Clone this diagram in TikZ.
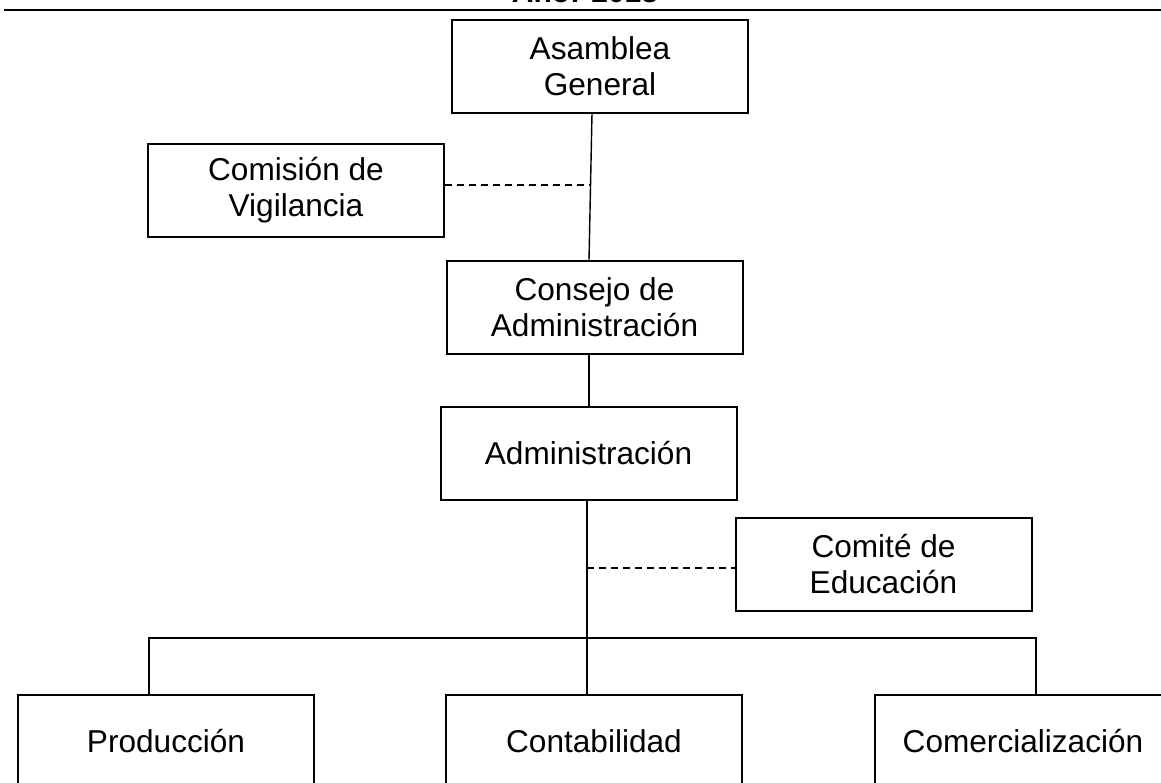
\documentclass[tikz,border=0pt]{standalone}
\usepackage{fontspec}
\setmainfont{Liberation Sans}
\usepackage{tikz}

\begin{document}
\begin{tikzpicture}[x=0.5pt,y=-0.5pt,
  caja/.style={shape=rectangle,draw=black,line width=1pt,minimum width=148pt,minimum height=46.5pt,align=center,inner sep=0pt,font=\fontsize{15.8}{18}\selectfont},
  linea/.style={draw=black,line width=0.7pt},
  punteada/.style={draw=black,line width=0.7pt,dash pattern=on 3.5pt off 2.5pt}]
\useasboundingbox (0,0) rectangle (1161,782);
\clip (0,0) rectangle (1161,782);
% titulo (cortado arriba)
\node[anchor=base,inner sep=0pt,font=\bfseries\fontsize{15}{18}\selectfont] (anio) at (585,2.5) {Año: 2013};
\draw[line width=1.3pt] (4,10) -- (1161,10);
\node[caja] (ag) at (600,66) {Asamblea\\General};
\node[caja] (cv) at (296,190) {Comisión de\\Vigilancia};
\node[caja] (ca) at (594.5,307.5) {Consejo de\\Administración};
\node[caja] (adm) at (588.5,453.5) {Administración};
\node[caja] (ce) at (883.5,564.5) {Comité de\\Educación};
\node[caja] (pro) at (166,741.5) {Producción};
\node[caja] (con) at (594,741.5) {Contabilidad};
\node[caja] (com) at (1023,741.5) {Comercialización};
\coordinate (j1) at (591,185);
\coordinate (j2) at (587,568);
\coordinate (rama) at (587,638);
\path[linea] (ag.south -| 592,0) -- (ca.north -| 589,0);
\path[punteada] (cv.east |- j1) -- (j1);
\path[linea] (ca.south -| 589,0) -- (adm.north -| 589,0);
\path[linea] (adm.south -| rama) -- (con.north -| rama);
\path[punteada] (j2) -- (ce.west |- j2);
\path[linea] (pro.north -| 149,0) -- (149,638) -- (1036,638) -- (com.north -| 1036,0);
\end{tikzpicture}
\end{document}
